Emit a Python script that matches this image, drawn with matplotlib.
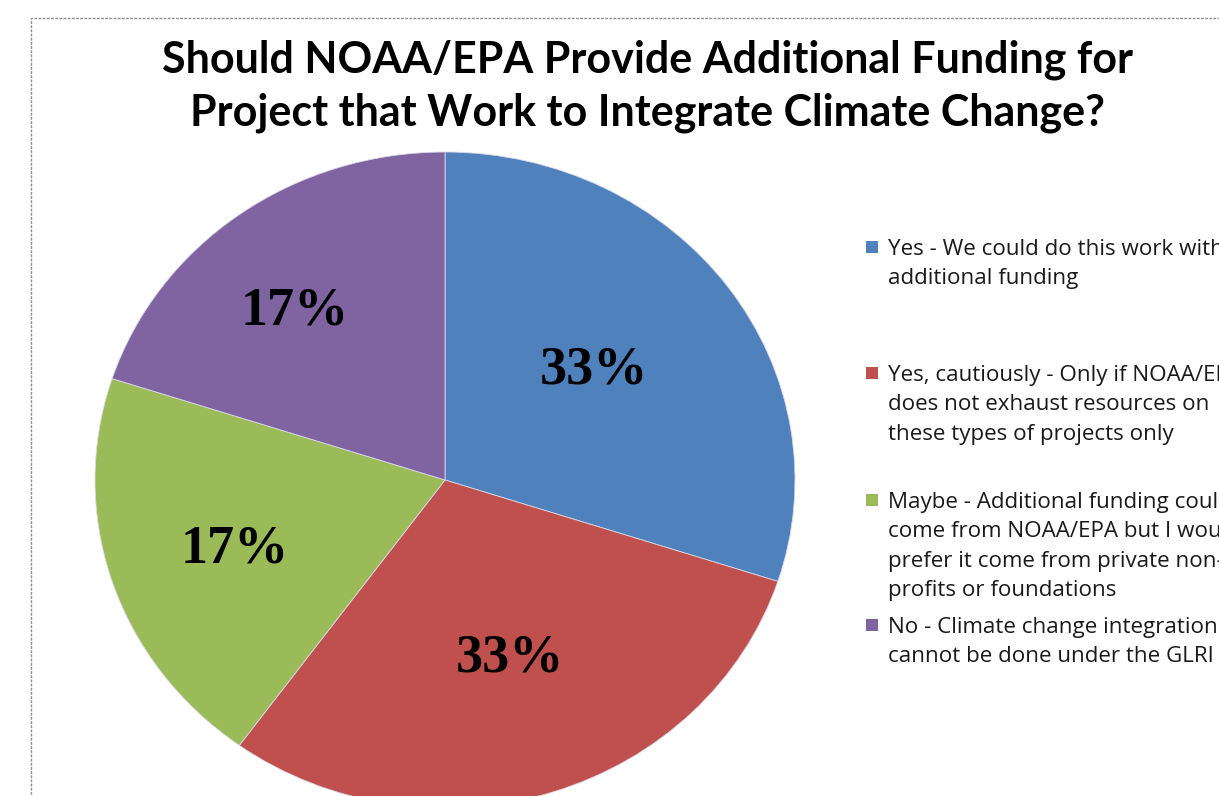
import matplotlib
matplotlib.use("Agg")
import matplotlib.pyplot as plt
from matplotlib.patches import Rectangle
import numpy as np

# ---- data ----
title = "Should NOAA/EPA Provide Additional Funding for\nProject that Work to Integrate Climate Change?"
categories = [
    "Yes - We could do this work with\nadditional funding",
    "Yes, cautiously - Only if NOAA/EPA\ndoes not exhaust resources on\nthese types of projects only",
    "Maybe - Additional funding could\ncome from NOAA/EPA but I would\nprefer it come from private non-\nprofits or foundations",
    "No - Climate change integration\ncannot be done under the GLRI",
]
wedge_sizes = [30, 30, 20, 20]          # angular share as drawn
pct_labels = ["33%", "33%", "17%", "17%"]  # labels as printed
colors = ["#4F81BD", "#C0504D", "#9BBB59", "#8064A2"]

W, H = 1219, 796
fig = plt.figure(figsize=(W / 100, H / 100), dpi=100)
fig.patch.set_facecolor("white")

# pie axes: centre at (445, 480) px from top, radii 350 x 328 px
cx, cy, rx, ry = 445, 480, 350, 328
m = 1.1
ax = fig.add_axes([(cx - m * rx) / W, (H - cy - m * ry) / H, 2 * m * rx / W, 2 * m * ry / H])
wedges, _ = ax.pie(wedge_sizes, colors=colors, startangle=90, counterclock=False,
                   wedgeprops=dict(edgecolor="#d8d8e8", linewidth=0.6))
ax.set_aspect("auto")
ax.set_xlim(-m, m)
ax.set_ylim(-m, m)
ax.axis("off")

label_r = [0.542, 0.574, 0.637, 0.67]
label_dang = [2.2, 0.9, 1.5, 3.8]
for w, lab, r, da in zip(wedges, pct_labels, label_r, label_dang):
    mid = np.deg2rad((w.theta1 + w.theta2) / 2 + da)
    ax.text(r * np.cos(mid), r * np.sin(mid), lab, ha="center", va="center",
            fontsize=39, fontweight="bold", family="Liberation Serif", color="black")

# title
fig.text(647 / W, 1 - 86 / H, title, ha="center", va="center", fontsize=31,
         fontweight="bold", family="Lato", linespacing=1.38)

# legend (manual, evenly spaced entries as in the original)
entry_top = [247, 373, 500, 625]
for top, lab, col in zip(entry_top, categories, colors):
    fig.add_artist(Rectangle((866 / W, 1 - (top + 6) / H), 12 / W, 12 / H,
                             transform=fig.transFigure, facecolor=col, edgecolor="none"))
    fig.text(888 / W, 1 - (top - 8) / H, lab, ha="left", va="top", fontsize=16.1,
             family="Open Sans", linespacing=1.52, color="#1a1a1a")

# dashed frame
fig.add_artist(Rectangle((31 / W, -0.05), 1.2, 1 - 18 / H + 0.05, transform=fig.transFigure,
                         fill=False, edgecolor="#8c8c8c", linewidth=1.0, linestyle=(0, (2, 1))))

fig.savefig("out.png", dpi=100)
